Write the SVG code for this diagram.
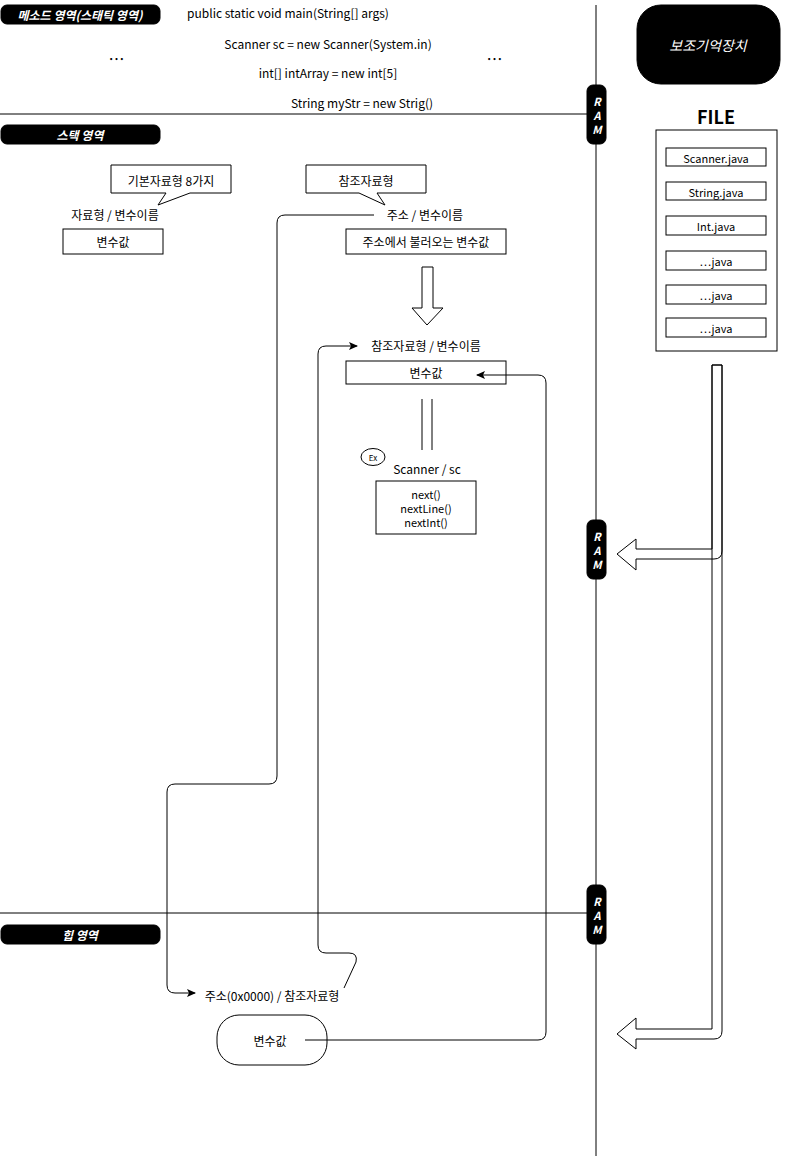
<svg xmlns="http://www.w3.org/2000/svg" width="797" height="1156" viewBox="0 0 797 1156">
<style>
text{font-family:"Noto Sans CJK KR","Noto Sans",sans-serif;font-size:12px;fill:#000;text-anchor:middle;dominant-baseline:central}
.pill{fill:#000;stroke:#000}
.pt{fill:#fff;font-weight:bold;font-style:italic;font-size:12px}
.ram{fill:#fff;font-weight:bold;font-style:italic;font-size:11px}
.box{fill:#fff;stroke:#000;stroke-width:1}
.ln{fill:none;stroke:#000;stroke-width:1}
.sm{font-size:11px}
.dots{font-size:16px;letter-spacing:1px}
.big{font-size:18px;font-weight:bold}
.store{fill:#fff;font-style:italic;font-size:14px}
.ex{font-size:8px}
.m{font-size:11px}
</style>
<defs>
<marker id="ah" markerWidth="10" markerHeight="10" refX="8" refY="4" orient="auto" markerUnits="userSpaceOnUse">
<path d="M0,0 L9,4 L0,8 L2,4 Z" fill="#000"/>
</marker>
</defs>

<g id="separators">
<line class="ln" x1="596" y1="5" x2="596" y2="1156"/>
<line class="ln" x1="0" y1="114" x2="587" y2="114"/>
<line class="ln" x1="0" y1="913" x2="587" y2="913"/>
</g>

<g id="ram1"><rect class="pill" x="587" y="85" width="19" height="59" rx="6"/>
<text class="ram" x="597" y="101">R</text><text class="ram" x="597" y="115">A</text><text class="ram" x="597" y="129">M</text></g>
<g id="ram2"><rect class="pill" x="587" y="520" width="19" height="59" rx="6"/>
<text class="ram" x="597" y="536">R</text><text class="ram" x="597" y="550">A</text><text class="ram" x="597" y="564">M</text></g>
<g id="ram3"><rect class="pill" x="587" y="885" width="19" height="59" rx="6"/>
<text class="ram" x="597" y="901">R</text><text class="ram" x="597" y="915">A</text><text class="ram" x="597" y="929">M</text></g>

<g id="method-area"><rect class="pill" x="1" y="5" width="159" height="19" rx="6"/><text class="pt" x="80" y="14.5">메소드 영역(스태틱 영역)</text></g>
<g id="stack-area"><rect class="pill" x="1" y="125" width="159" height="19" rx="6"/><text class="pt" x="80" y="134.5">스택 영역</text></g>
<g id="heap-area"><rect class="pill" x="1" y="925" width="159" height="19" rx="6"/><text class="pt" x="80" y="934.5">힙 영역</text></g>

<g id="code">
<text x="288" y="12">public static void main(String[] args)</text>
<text x="328" y="43">Scanner sc = new Scanner(System.in)</text>
<text x="328" y="72">int[] intArray = new int[5]</text>
<text x="362" y="102">String myStr = new Strig()</text>
<text class="dots" x="117" y="58">…</text>
<text class="dots" x="495" y="58">…</text>
</g>

<g id="storage"><rect class="pill" x="637" y="5" width="143" height="79" rx="24"/><text class="store" x="708" y="45">보조기억장치</text></g>
<g id="file">
<text class="big" x="716" y="116">FILE</text>
<rect class="box" x="656" y="130" width="121" height="221"/>
<rect class="box" x="666" y="148" width="100" height="18"/><text x="716" y="157.5" class="sm">Scanner.java</text>
<rect class="box" x="666" y="182" width="100" height="18"/><text x="716" y="191.5" class="sm">String.java</text>
<rect class="box" x="666" y="216" width="100" height="19"/><text x="716" y="226" class="sm">Int.java</text>
<rect class="box" x="666" y="251" width="100" height="19"/><text x="716" y="261" class="sm">…java</text>
<rect class="box" x="666" y="285" width="100" height="19"/><text x="716" y="295" class="sm">…java</text>
<rect class="box" x="666" y="318" width="100" height="19"/><text x="716" y="328" class="sm">…java</text>
</g>

<g id="callout-primitive">
<path class="box" d="M111,165 H231 V193 H190 L158,205 L166,193 H111 Z"/>
<text x="171" y="180">기본자료형 8가지</text>
</g>
<g id="callout-reference">
<path class="box" d="M306,165 H426 V193 H377 L385,205 L359,193 H306 Z"/>
<text x="366" y="180">참조자료형</text>
</g>

<g id="primitive">
<text x="115" y="214">자료형 / 변수이름</text>
<rect class="box" x="63" y="229" width="100" height="25"/><text x="113" y="241.5">변수값</text>
</g>
<g id="reference">
<text x="425" y="214">주소 / 변수이름</text>
<rect class="box" x="346" y="229" width="160" height="25"/><text x="426" y="241.5">주소에서 불러오는 변수값</text>
</g>

<g id="down-arrow">
<path class="box" d="M422,267 H433 V308 H443 L427,325 L412,308 H422 Z"/>
</g>

<g id="ref-var">
<text x="426" y="345">참조자료형 / 변수이름</text>
<rect class="box" x="346" y="361" width="160" height="23"/><text x="426" y="372.5">변수값</text>
</g>

<g id="scanner">
<ellipse class="box" cx="373" cy="457" rx="12" ry="8.5"/><text class="ex" x="373" y="457.5">Ex</text>
<text x="427" y="468">Scanner / sc</text>
<rect class="box" x="376" y="481" width="100" height="53"/>
<text class="m" x="426" y="494">next()</text><text class="m" x="426" y="508">nextLine()</text><text class="m" x="426" y="522">nextInt()</text>
</g>

<g id="heap-obj">
<text x="272" y="995">주소(0x0000) / 참조자료형</text>
<rect class="box" x="217" y="1015" width="110" height="50" rx="22"/><text x="270" y="1040">변수값</text>
</g>

<g id="pipe">
<path class="ln" d="M712,365 H722 V551 Q722,559 714,559 H636 V570 L617,554 L636,539 V549 H712 Z"/>
<path class="ln" d="M712,365 H722 V1031 Q722,1039 714,1039 H636 V1049 L617,1034 L636,1018 V1029 H712 Z"/>
</g>

<g id="connectors">
<line class="ln" x1="422" y1="399" x2="422" y2="450"/>
<line class="ln" x1="432" y1="399" x2="432" y2="450"/>
<path class="ln" d="M374,215 H285 Q277,215 277,223 V776 Q277,784 269,784 H175 Q167,784 167,792 V985 Q167,993 175,993 H195" marker-end="url(#ah)"/>
<path class="ln" d="M344,988 L356,962 Q358,953 349,953 H326 Q318,953 318,945 V354 Q318,346 326,346 H357" marker-end="url(#ah)"/>
<path class="ln" d="M305,1040 H538 Q546,1040 546,1032 V383 Q546,375 538,375 H477" marker-end="url(#ah)"/>
</g>
</svg>
